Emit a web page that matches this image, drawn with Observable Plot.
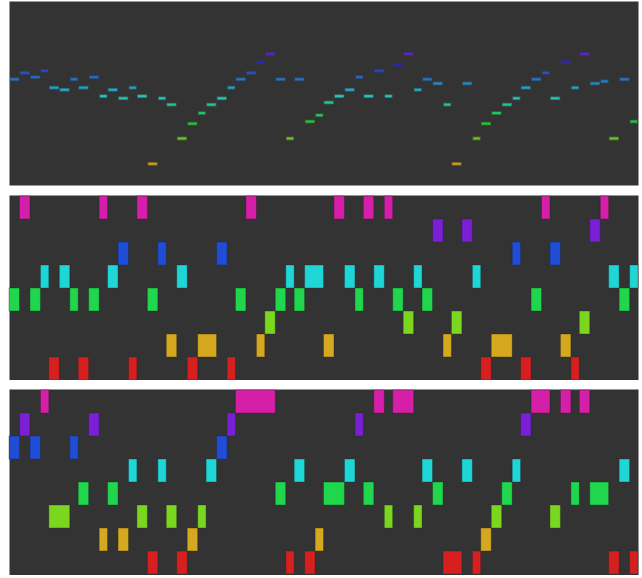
<!DOCTYPE html>
<html><head><meta charset="utf-8">
<script src="https://cdn.jsdelivr.net/npm/d3@7"></script>
<script src="https://cdn.jsdelivr.net/npm/@observablehq/plot@0.6"></script>
<style>
html,body{margin:0;padding:0;background:#fff;}
svg{display:block;}
</style></head><body><div id="chart"></div>
<script>
// ---- Panel 1: melody (pitch, continuous) ----
const melodyOnset  = [0,0.5,1.0,1.5,1.9,2.4,2.9,3.3,3.8,4.3,4.7,5.2,5.7,6.1,6.6,7.1,7.5,8.0,8.5,9.0,9.4,9.9,10.4,10.8,11.3,11.8,12.2,12.7,13.2,13.6,14.1,14.6,15.0,15.5,16.0,16.5,16.9,17.4,17.9,18.3,18.8,19.3,19.7,20.2,20.7,21.1,21.6,22.1,22.5,23.0,23.5,24.0,24.4,24.9,25.4,25.8,26.3,26.8,27.2,27.7,28.2,28.6,29.1,29.6];
const melodyOffset = [0.5,1.0,1.5,1.9,2.4,2.9,3.3,3.8,4.3,4.7,5.2,5.7,6.1,6.6,7.1,7.5,8.0,8.5,9.0,9.4,9.9,10.4,10.8,11.3,11.8,12.2,12.7,13.2,13.6,14.1,14.6,15.0,15.5,16.0,16.5,16.9,17.4,17.9,18.3,18.8,19.3,19.7,20.2,20.7,21.1,21.6,22.1,22.5,23.0,23.5,24.0,24.4,24.9,25.4,25.8,26.3,26.8,27.2,27.7,28.2,28.6,29.1,29.6,30.0];
const melodyPitch  = [71,74,72,75,67,66,71,67,72,63,66,62,67,63,31,62,59,43,50,55,59,62,67,71,74,79,83,71,43,71,51,54,60,63,66,72,63,75,63,78,83,66,71,69,59,31,69,43,50,55,59,62,67,71,74,62,79,67,83,69,70,43,71,51];

// ---- Panel 2: degree rows ----
const trackBOnset  = [0,0.5,1.0,1.5,1.9,2.4,2.9,3.3,3.8,4.3,4.7,5.2,5.7,6.1,6.6,7.1,7.5,8.0,8.5,9.0,9.9,10.4,10.8,11.3,11.8,12.2,12.7,13.2,13.6,14.1,15.0,15.5,16.0,16.5,16.9,17.4,17.9,18.3,18.8,19.3,19.7,20.2,20.7,21.1,21.6,22.1,22.5,23.0,24.0,24.4,24.9,25.4,25.8,26.3,26.8,27.2,27.7,28.2,28.6,29.1,29.6];
const trackBOffset = [0.5,1.0,1.5,1.9,2.4,2.9,3.3,3.8,4.3,4.7,5.2,5.7,6.1,6.6,7.1,7.5,8.0,8.5,9.0,9.9,10.4,10.8,11.3,11.8,12.2,12.7,13.2,13.6,14.1,15.0,15.5,16.0,16.5,16.9,17.4,17.9,18.3,18.8,19.3,19.7,20.2,20.7,21.1,21.6,22.1,22.5,23.0,24.0,24.4,24.9,25.4,25.8,26.3,26.8,27.2,27.7,28.2,28.6,29.1,29.6,30.0];
const trackBDegree = [4,8,4,5,1,5,4,1,4,8,5,6,1,8,4,6,2,5,1,2,6,1,4,8,2,3,4,5,4,5,2,8,5,4,8,5,8,4,3,5,4,7,2,3,7,5,1,2,6,1,4,8,6,2,1,3,7,8,5,4,5];

// ---- Panel 3: degree rows ----
const trackCOnset  = [0,0.5,1.0,1.5,1.9,2.9,3.3,3.8,4.3,4.7,5.2,5.7,6.1,6.6,7.1,7.5,8.0,8.5,9.0,9.4,9.9,10.4,10.8,12.7,13.2,13.6,14.1,14.6,15.0,16.0,16.5,16.9,17.4,17.9,18.3,19.3,19.7,20.2,20.7,21.6,22.1,22.5,23.0,23.5,24.0,24.4,24.9,25.8,26.3,26.8,27.2,27.7,28.6,29.1,29.6];
const trackCOffset = [0.5,1.0,1.5,1.9,2.9,3.3,3.8,4.3,4.7,5.2,5.7,6.1,6.6,7.1,7.5,8.0,8.5,9.0,9.4,9.9,10.4,10.8,12.7,13.2,13.6,14.1,14.6,15.0,16.0,16.5,16.9,17.4,17.9,18.3,19.3,19.7,20.2,20.7,21.6,22.1,22.5,23.0,23.5,24.0,24.4,24.9,25.8,26.3,26.8,27.2,27.7,28.6,29.1,29.6,30.0];
const trackCDegree = [6,7,6,8,3,6,4,7,2,4,2,5,3,1,5,3,1,2,3,5,6,7,8,4,1,5,1,2,4,5,7,4,8,3,8,3,5,4,1,5,1,2,3,4,5,7,8,3,8,4,8,4,1,5,1];

// rows top to bottom, and their colours
const degreeRows   = [8,7,6,5,4,3,2,1];
const degreeNames  = [1,2,3,4,5,6,7,8];
const degreeColors = ["#d61f1f","#d6a81f","#7ad61f","#1fd64d","#1fd6d6","#1f4dd6","#7a1fd6","#d61fa8"];
const timeDomain = [0, 30];
const pitchDomain = [21, 108];
const pitchColorDomain = [31, 83];

const root = document.getElementById("chart");

const melody = melodyPitch.map((p, i) => ({start: melodyOnset[i], end: melodyOffset[i], pitch: p}));
root.append(Plot.plot({
  width: 642, height: 186, marginTop: 1, marginBottom: 1, marginLeft: 9, marginRight: 4,
  x: {domain: timeDomain, axis: null},
  y: {domain: pitchDomain, axis: null},
  color: {type: "linear", domain: pitchColorDomain, interpolate: t => d3.hsl(45 + 215 * t, 0.68, 0.46).formatHex()},
  marks: [
    Plot.frame({fill: "#333", stroke: "none"}),
    Plot.rect(melody, {x1: "start", x2: "end", y1: d => d.pitch - 0.5, y2: d => d.pitch + 0.5,
      fill: "pitch", stroke: "pitch", strokeWidth: 1.6, strokeOpacity: 0.4, insetLeft: 1, insetRight: 1})
  ]
}));

function rowPlot(onset, offset, degree, height) {
  const data = degree.map((d, i) => ({start: onset[i], end: offset[i], degree: d}));
  return Plot.plot({
    width: 642, height, marginTop: 9, marginBottom: 0, marginLeft: 9, marginRight: 4,
    x: {domain: timeDomain, axis: null},
    y: {type: "band", domain: degreeRows, padding: 0, axis: null},
    color: {type: "ordinal", domain: degreeNames, range: degreeColors},
    marks: [
      Plot.frame({fill: "#333", stroke: "none"}),
      Plot.barX(data, {x1: "start", x2: "end", y: "degree", fill: "degree",
        stroke: "#222", strokeOpacity: 0.35, strokeWidth: 1})
    ]
  });
}
root.append(rowPlot(trackBOnset, trackBOffset, trackBDegree, 194));
root.append(rowPlot(trackCOnset, trackCOffset, trackCDegree, 195));
</script></body></html>
